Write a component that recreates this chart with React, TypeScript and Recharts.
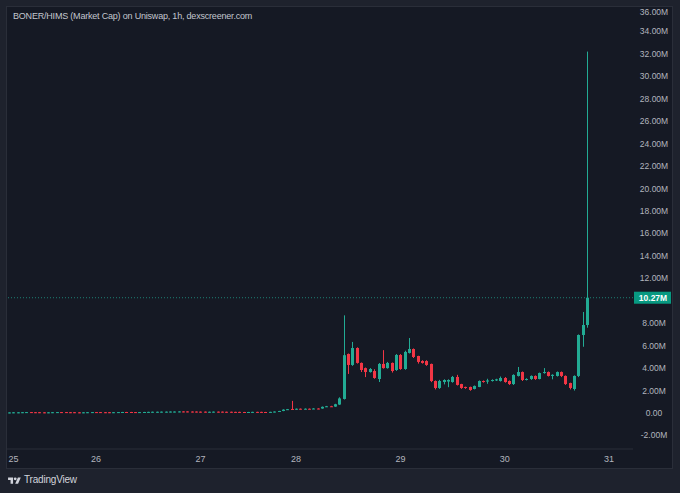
import React from 'react';
import { ComposedChart, Bar, XAxis, YAxis, ReferenceLine } from 'recharts';

// hourly candles, market cap in millions
const opens = [
  0.04, 0.05, 0.06, 0.06, 0.07, 0.08, 0.07, 0.07, 0.06, 0.05,
  0.06, 0.07, 0.08, 0.08, 0.07, 0.07, 0.06, 0.05, 0.06, 0.07,
  0.08, 0.08, 0.07, 0.07, 0.06, 0.07, 0.08, 0.09, 0.09, 0.08,
  0.07, 0.08, 0.09, 0.10, 0.10, 0.11, 0.12, 0.12, 0.13, 0.13,
  0.14, 0.14, 0.13, 0.13, 0.12, 0.12, 0.10, 0.11, 0.12, 0.12,
  0.11, 0.11, 0.10, 0.10, 0.09, 0.08, 0.09, 0.10, 0.10, 0.09,
  0.08, 0.10, 0.13, 0.18, 0.30, 0.36, 0.30, 0.38, 0.34, 0.38,
  0.36, 0.40, 0.40, 0.55, 0.60, 0.57, 0.75, 1.25, 5.26, 4.28,
  5.79, 4.46, 4.00, 3.65, 3.74, 3.03, 4.37, 4.00, 4.46, 3.83,
  5.17, 3.92, 5.35, 5.70, 5.08, 4.63, 4.63, 4.37, 2.85, 2.23,
  2.76, 2.80, 2.76, 3.21, 2.58, 2.32, 2.32, 2.14, 2.32, 2.85,
  2.80, 2.85, 2.90, 2.85, 3.12, 2.85, 2.58, 3.30, 3.65, 2.94,
  3.03, 3.30, 3.03, 3.56, 3.65, 3.30, 3.30, 3.65, 3.30, 2.67,
  2.14, 3.30, 6.95, 7.84,
];
const closes = [
  0.05, 0.06, 0.06, 0.07, 0.08, 0.07, 0.06, 0.05, 0.05, 0.06,
  0.07, 0.08, 0.07, 0.06, 0.06, 0.05, 0.05, 0.06, 0.07, 0.08,
  0.07, 0.06, 0.06, 0.06, 0.07, 0.08, 0.09, 0.08, 0.07, 0.07,
  0.08, 0.09, 0.10, 0.11, 0.11, 0.12, 0.12, 0.13, 0.13, 0.14,
  0.13, 0.12, 0.12, 0.11, 0.11, 0.10, 0.11, 0.12, 0.11, 0.10,
  0.10, 0.09, 0.09, 0.08, 0.08, 0.09, 0.10, 0.09, 0.08, 0.08,
  0.10, 0.13, 0.18, 0.30, 0.34, 0.30, 0.38, 0.34, 0.38, 0.36,
  0.40, 0.38, 0.55, 0.60, 0.57, 0.78, 1.30, 5.15, 4.28, 5.79,
  4.46, 3.83, 3.65, 3.92, 3.12, 4.37, 4.00, 4.46, 3.74, 5.17,
  3.92, 5.44, 5.70, 4.99, 4.55, 4.46, 4.28, 2.85, 2.23, 2.85,
  2.94, 2.94, 3.21, 2.50, 2.23, 2.23, 2.05, 2.41, 2.85, 2.76,
  2.90, 2.94, 3.00, 3.12, 2.76, 2.58, 3.39, 3.65, 2.94, 3.03,
  3.30, 3.03, 3.56, 3.65, 3.30, 3.40, 3.65, 3.30, 2.58, 2.23,
  3.30, 6.95, 7.84, 10.27,
];
const highs = [
  0.06, 0.07, 0.07, 0.08, 0.09, 0.09, 0.08, 0.08, 0.07, 0.07,
  0.08, 0.09, 0.09, 0.09, 0.08, 0.08, 0.07, 0.07, 0.08, 0.09,
  0.09, 0.09, 0.08, 0.08, 0.08, 0.09, 0.10, 0.10, 0.10, 0.09,
  0.09, 0.10, 0.11, 0.12, 0.12, 0.13, 0.13, 0.14, 0.14, 0.15,
  0.15, 0.15, 0.14, 0.14, 0.13, 0.13, 0.12, 0.13, 0.13, 0.13,
  0.12, 0.12, 0.11, 0.11, 0.10, 0.10, 0.11, 0.11, 0.11, 0.10,
  0.11, 0.14, 0.19, 0.33, 0.36, 1.08, 0.40, 0.40, 0.41, 0.40,
  0.43, 0.42, 0.58, 0.63, 0.64, 0.82, 1.40, 8.70, 5.30, 6.33,
  5.85, 4.50, 4.05, 4.00, 3.90, 4.45, 5.60, 4.55, 4.50, 5.25,
  5.25, 5.55, 6.68, 5.75, 5.10, 4.70, 4.70, 4.40, 2.90, 2.95,
  3.00, 3.00, 3.30, 3.40, 2.60, 2.35, 2.35, 2.45, 2.90, 2.90,
  3.05, 3.00, 3.05, 3.25, 3.20, 2.90, 3.45, 4.10, 3.70, 3.10,
  3.35, 3.35, 3.60, 4.00, 3.70, 3.45, 3.70, 3.70, 3.35, 2.70,
  3.35, 7.00, 9.00, 32.20,
];
const lows = [
  0.03, 0.04, 0.05, 0.05, 0.06, 0.06, 0.05, 0.04, 0.04, 0.04,
  0.05, 0.06, 0.06, 0.05, 0.05, 0.04, 0.04, 0.04, 0.05, 0.06,
  0.06, 0.05, 0.05, 0.05, 0.05, 0.06, 0.07, 0.07, 0.06, 0.06,
  0.06, 0.07, 0.08, 0.09, 0.09, 0.10, 0.11, 0.11, 0.12, 0.12,
  0.12, 0.11, 0.11, 0.10, 0.10, 0.09, 0.09, 0.10, 0.10, 0.09,
  0.09, 0.08, 0.08, 0.07, 0.07, 0.07, 0.08, 0.08, 0.07, 0.07,
  0.07, 0.09, 0.12, 0.16, 0.28, 0.28, 0.29, 0.32, 0.33, 0.34,
  0.35, 0.36, 0.38, 0.53, 0.55, 0.55, 0.72, 1.20, 3.48, 4.20,
  4.40, 3.65, 3.20, 3.60, 3.05, 2.76, 3.95, 3.95, 3.60, 3.75,
  3.85, 3.85, 5.30, 4.90, 4.40, 4.40, 4.20, 2.75, 2.10, 2.15,
  2.55, 2.30, 2.70, 2.45, 2.15, 2.15, 1.98, 2.10, 2.30, 2.70,
  2.60, 2.80, 2.85, 2.80, 2.70, 2.50, 2.50, 3.25, 2.85, 2.90,
  2.95, 2.95, 3.00, 3.50, 3.25, 3.00, 3.25, 3.20, 2.50, 2.10,
  2.00, 3.20, 5.90, 7.60,
];

// empty hours to the right of the last candle
const FUTURE_SLOTS = 10;
const dayTicks = [1, 20, 44, 66, 90, 114, 138];
const dayLabels = ['25', '26', '27', '28', '29', '30', '31'];
const priceTicks = [-2, 0, 2, 4, 6, 8, 12, 14, 16, 18, 20, 22, 24, 26, 28, 30, 32, 34, 36];
const lastPrice = 10.27;

const UP = '#22ab94';
const DOWN = '#f23645';
const TEXT = '#b2b5be';
const FONT = '"Liberation Sans", Arial, sans-serif';

const data = Array.from({ length: opens.length + FUTURE_SLOTS }, (_, i) =>
  i < opens.length
    ? { i, open: opens[i], high: highs[i], low: lows[i], close: closes[i], range: [lows[i], highs[i]] }
    : { i }
);

const Candle = (props: any) => {
  const { x, y, width, height, payload } = props;
  if (!payload || payload.open == null) return <g />;
  const { open, close, high, low } = payload;
  const top = Math.min(y, y + height);
  const h = Math.abs(height);
  const k = high - low > 0 ? h / (high - low) : 0;
  const py = (v: number) => top + (high - v) * k;
  const color = close >= open ? UP : DOWN;
  const cx = Math.round(x + width / 2) + 0.5;
  const bodyTop = py(Math.max(open, close));
  const bodyH = Math.max(1, py(Math.min(open, close)) - bodyTop);
  return (
    <g>
      <line x1={cx} x2={cx} y1={top} y2={top + Math.max(h, 1)} stroke={color} strokeWidth={1} />
      <rect x={cx - 1.5} y={bodyTop} width={3} height={bodyH} fill={color} />
    </g>
  );
};

const PriceTick = (props: any) => {
  const { y, payload } = props;
  const v = payload.value;
  // top label sits on the panel edge, keep it readable
  const ty = Math.max(y, 5);
  return (
    <text x={647} y={ty} textAnchor="middle" dominantBaseline="central" fill={TEXT} fontSize={8.5} fontFamily={FONT}>
      {v === 0 ? '0.00' : `${v.toFixed(2)}M`}
    </text>
  );
};

const DayTick = (props: any) => {
  const { x, payload } = props;
  const idx = dayTicks.indexOf(payload.value);
  return (
    <text x={x} y={452} textAnchor="middle" dominantBaseline="central" fill={TEXT} fontSize={9} fontFamily={FONT}>
      {dayLabels[idx]}
    </text>
  );
};

const LastPriceLabel = (props: any) => {
  const { viewBox } = props;
  const y = viewBox.y;
  return (
    <g>
      <rect x={627} y={y - 6} width={37} height={12} fill="#089981" />
      <text x={646} y={y} textAnchor="middle" dominantBaseline="central" fill="#ffffff" fontSize={8.5} fontWeight="bold" fontFamily={FONT}>
        {`${lastPrice.toFixed(2)}M`}
      </text>
    </g>
  );
};

const TvLogo = () => (
  <svg width={13} height={10} viewBox="0 0 36 28" style={{ position: 'absolute', left: 8, top: 476 }}>
    <path d="M14 22H7V11H0V4h14v18z" fill="#d1d4dc" />
    <circle cx={20} cy={8} r={4} fill="#d1d4dc" />
    <path d="M28 22h-8l7.5-18h8L28 22z" fill="#d1d4dc" />
  </svg>
);

export default function App() {
  return (
    <div style={{ position: 'absolute', left: 0, top: 0, width: 680, height: 493, background: '#1e222d', fontFamily: FONT }}>
      <div style={{ position: 'absolute', left: 7, top: 7, width: 665, height: 461, background: '#151924', boxShadow: '0 0 0 1px #2a2e39' }}>
        <ComposedChart width={665} height={461} data={data} margin={{ top: 0, right: 0, bottom: 0, left: 0 }} barCategoryGap={0}>
          <XAxis
            dataKey="i"
            type="category"
            height={19}
            ticks={dayTicks}
            tick={<DayTick />}
            tickLine={false}
            axisLine={{ stroke: '#2a2e39' }}
            interval={0}
          />
          <YAxis
            orientation="right"
            width={39}
            domain={[-3.207, 36.17]}
            allowDataOverflow
            ticks={priceTicks}
            tick={<PriceTick />}
            tickLine={false}
            axisLine={false}
            interval={0}
          />
          <ReferenceLine y={lastPrice} stroke={UP} strokeOpacity={0.7} strokeDasharray="1 2" label={<LastPriceLabel />} />
          <Bar dataKey="range" shape={<Candle />} isAnimationActive={false} />
        </ComposedChart>
        <div style={{ position: 'absolute', left: 6, top: 4, fontSize: 9, color: '#c3c6ce', whiteSpace: 'nowrap', letterSpacing: -0.2 }}>
          BONER/HIMS (Market Cap) on Uniswap, 1h, dexscreener.com
        </div>
      </div>
      <TvLogo />
      <div style={{ position: 'absolute', left: 24, top: 474, fontSize: 10, color: '#d1d4dc', letterSpacing: -0.2 }}>
        TradingView
      </div>
    </div>
  );
}
